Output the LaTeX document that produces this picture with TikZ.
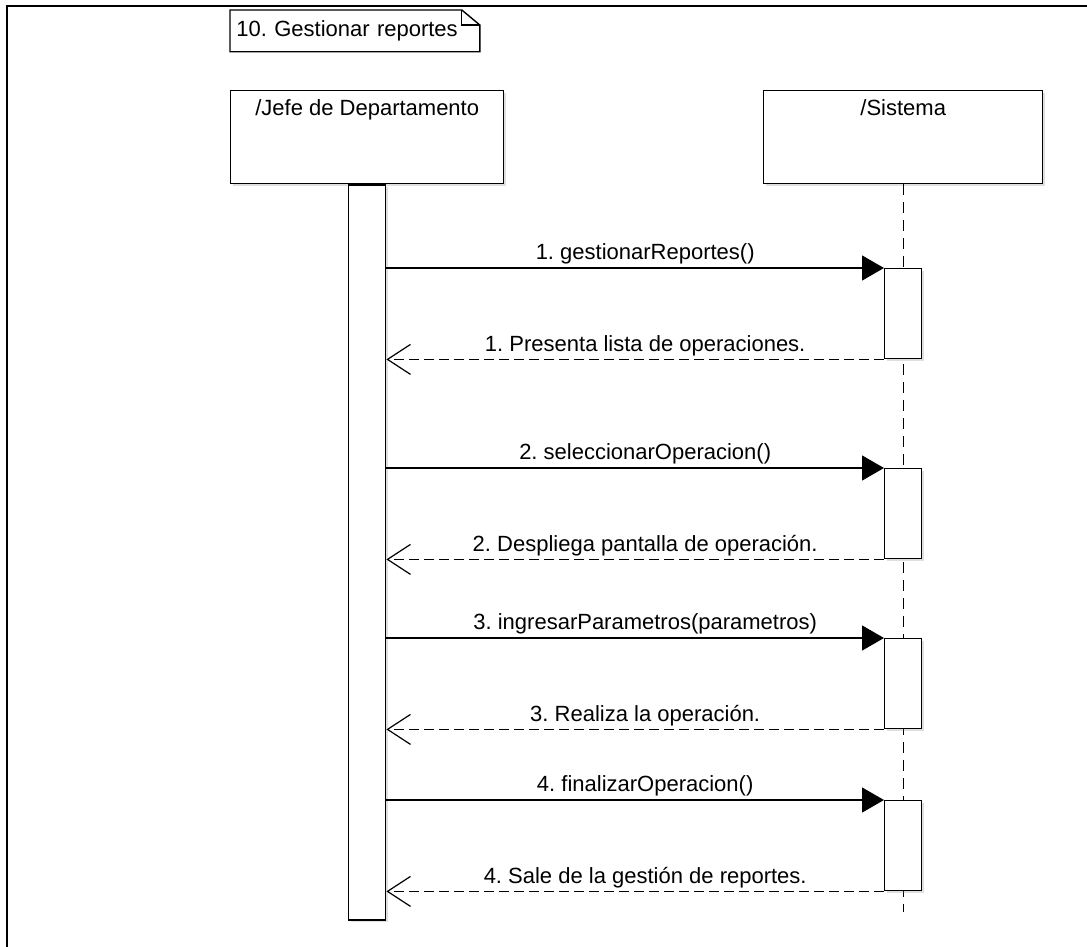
\documentclass[tikz,border=0pt]{standalone}
\usepackage{fontspec}
\setmainfont{Liberation Sans}
\usetikzlibrary{arrows.meta, positioning, shadows}

\tikzset{
  lifebox/.style={draw, fill=white, line width=0.7pt, anchor=north west,
    minimum height=46.5pt, drop shadow={shadow xshift=1pt, shadow yshift=-1pt, opacity=0.25}},
  actbox/.style={draw, fill=white, line width=0.7pt, anchor=north, minimum width=18.5pt,
    drop shadow={shadow xshift=1pt, shadow yshift=-1pt, opacity=0.25}},
  boxtitle/.style={anchor=north, inner sep=4.5pt},
  call/.style={line width=0.65pt, -{Triangle[length=11pt, width=12.5pt]}},
  reply/.style={line width=0.65pt, dash pattern=on 5pt off 2.5pt,
    -{Straight Barb[length=11.5pt, width=15pt, line width=0.6pt]}},
  lifeline/.style={line width=0.7pt, dash pattern=on 5.5pt off 3.5pt},
  msg/.style={midway, above, inner sep=1.5pt, xshift=5pt},
}

\begin{document}
\frenchspacing
\begin{tikzpicture}[x=0.5pt, y=-0.5pt, font=\fontsize{11}{13}\selectfont]
        \useasboundingbox (0,0) rectangle (1087,947);

        % --- frame ---
        \draw[line width=1.1pt] (7,947) -- (7,6) -- (1087,6);

        % --- note ---
        \node[anchor=north west, inner sep=3pt, text width=118.5pt, minimum height=20.5pt, align=left]
            (note) at (230,10) {10. Gestionar reportes};
        \draw[line width=0.7pt] (note.north west) -- ([xshift=-9pt]note.north east)
            -- ([yshift=-7.5pt]note.north east) -- (note.south east) -- (note.south west) -- cycle;
        \draw[line width=0.6pt] ([xshift=-9pt]note.north east) |- ([yshift=-7.5pt]note.north east);

        % --- lifelines ---
        \node[lifebox, minimum width=136.5pt,
            label={[boxtitle]north:/Jefe de Departamento}] (jefe) at (230,90) {};
        \node[lifebox, minimum width=139.5pt,
            label={[boxtitle]north:/Sistema}] (sis) at (763,90) {};

        \coordinate (sisend) at (sis.south |- 0,912);
        \draw[lifeline] (sis.south) -- (sisend);

        % --- activations ---
        \node[actbox, minimum height=367.5pt] (jefeact) at (jefe.south) {};
        \foreach \n/\y in {1/268,2/468,3/638,4/800}
            \node[actbox, minimum height=45pt] (act\n) at (sis.south |- 0,\y) {};

        % --- messages ---
        \draw[call] (act1.north west -| jefeact.east) -- node[msg] {1. gestionarReportes()} (act1.north west);
        \draw[reply] (act1.south west) -- node[msg] {1. Presenta lista de operaciones.} (act1.south west -| jefeact.east);

        \draw[call] (act2.north west -| jefeact.east) -- node[msg] {2. seleccionarOperacion()} (act2.north west);
        \draw[reply] (act2.south west) -- node[msg] {2. Despliega pantalla de operación.} (act2.south west -| jefeact.east);

        \draw[call] (act3.north west -| jefeact.east) -- node[msg] {3. ingresarParametros(parametros)} (act3.north west);
        \draw[reply] (act3.south west) -- node[msg] {3. Realiza la operación.} (act3.south west -| jefeact.east);

        \draw[call] (act4.north west -| jefeact.east) -- node[msg] {4. finalizarOperacion()} (act4.north west);
        \draw[reply] (act4.south west) -- node[msg] {4. Sale de la gestión de reportes.} (act4.south west -| jefeact.east);
\end{tikzpicture}
\end{document}
